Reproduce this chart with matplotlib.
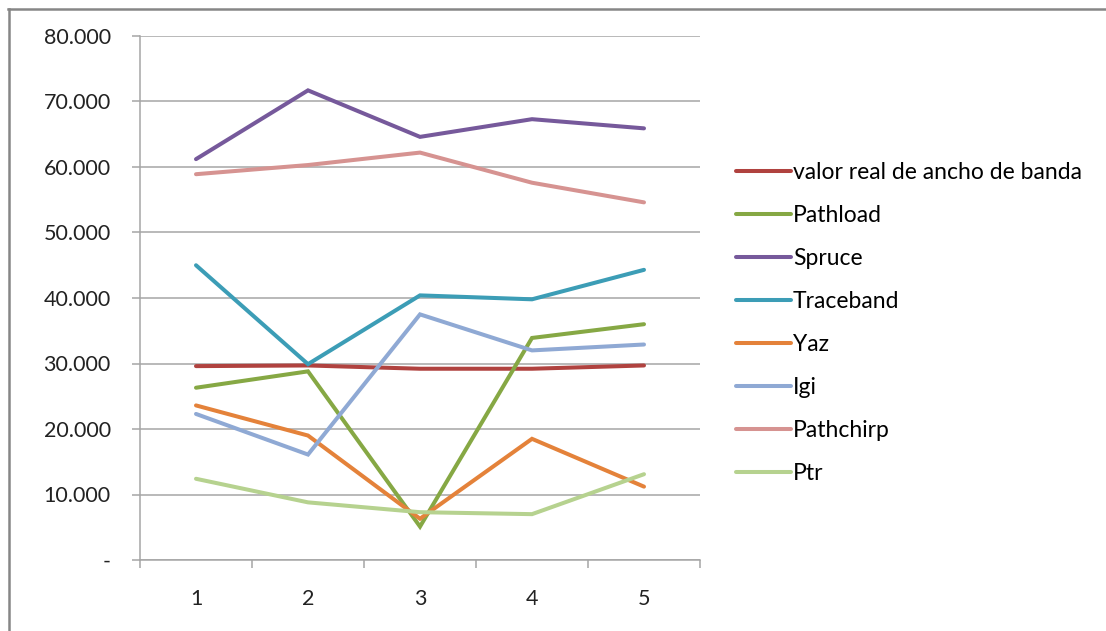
import numpy as np
import matplotlib.pyplot as plt
from matplotlib.lines import Line2D
from matplotlib.ticker import FuncFormatter

# Data
categories = [1, 2, 3, 4, 5]
series_names = ["valor real de ancho de banda", "Pathload", "Spruce", "Traceband",
                "Yaz", "Igi", "Pathchirp", "Ptr"]
valor_real = [29.6, 29.7, 29.2, 29.2, 29.7]
pathload = [26.3, 28.8, 5.1, 33.9, 36.0]
spruce = [61.2, 71.7, 64.6, 67.3, 65.9]
traceband = [45.0, 29.9, 40.4, 39.8, 44.3]
yaz = [23.6, 19.0, 6.3, 18.5, 11.2]
igi = [22.3, 16.1, 37.5, 32.0, 32.9]
pathchirp = [58.9, 60.3, 62.2, 57.6, 54.6]
ptr = [12.4, 8.8, 7.3, 7.0, 13.1]

series_values = [valor_real, pathload, spruce, traceband, yaz, igi, pathchirp, ptr]
colors = ["#B0423F", "#86A844", "#76599B", "#3C9DB6", "#E4823A", "#8FA9D4",
          "#D69391", "#B6D28F"]

plt.rcParams['font.family'] = ['Lato', 'DejaVu Sans']

fig = plt.figure(figsize=(11.06, 6.31), dpi=100)
W, H = 1106, 631

# chart frame (top and left edges visible)
fig.add_artist(Line2D([8 / W, 1.0], [1 - 8.5 / H, 1 - 8.5 / H], color="#868686", lw=1.8,
                      transform=fig.transFigure))
fig.add_artist(Line2D([8.5 / W, 8.5 / W], [0, 1 - 8.5 / H], color="#868686", lw=1.8,
                      transform=fig.transFigure))

ax = fig.add_axes([140 / W, 1 - 560 / H, 560 / W, 524 / H])
x = np.array(categories)
for name, vals, c in zip(series_names, series_values, colors):
    ax.plot(x, vals, color=c, lw=2.9, label=name, solid_capstyle="round",
            solid_joinstyle="miter")

ax.set_xlim(0.5, 5.5)
ax.set_ylim(0, 80)
ax.set_yticks(np.arange(0, 81, 10))
ax.yaxis.set_major_formatter(FuncFormatter(lambda v, p: "-" if v == 0 else f"{v:.3f}"))
ax.grid(axis="y", color="#A6A6A6", lw=1.1)
ax.set_axisbelow(True)

ax.set_xticks(categories)
ax.set_xticks(np.arange(0.5, 5.6, 1.0), minor=True)
ax.tick_params(axis="x", which="major", length=0, pad=21, labelsize=15.5, colors="#222222")
ax.tick_params(axis="x", which="minor", length=6, color="#A6A6A6", width=1.1)
ax.tick_params(axis="y", length=6, color="#A6A6A6", width=1.1, pad=15, labelsize=15.5,
               labelcolor="#222222")

for s in ["top", "right"]:
    ax.spines[s].set_visible(False)
for s in ["left", "bottom"]:
    ax.spines[s].set_color("#A6A6A6")
    ax.spines[s].set_linewidth(1.1)

ax.legend(loc="upper left", bbox_to_anchor=(736 / W, 1 - 162 / H),
          bbox_transform=fig.transFigure, frameon=False, fontsize=16.5,
          handlelength=2.4, handletextpad=0.08, labelspacing=0.96, borderaxespad=0,
          borderpad=0)

fig.savefig("out.png", dpi=100)
